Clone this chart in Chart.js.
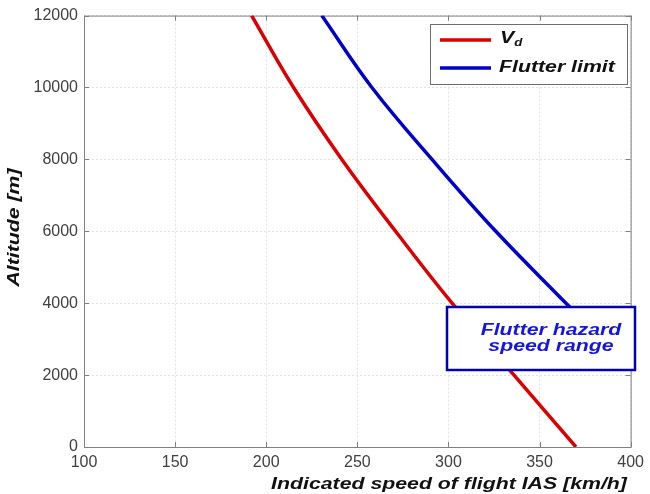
<!DOCTYPE html>
<html>
<head>
<meta charset="utf-8">
<script src="https://cdn.jsdelivr.net/npm/chart.js@4"></script>
<style>
  html, body { margin: 0; padding: 0; background: #fff; }
  #wrap { width: 650px; height: 494px; }
</style>
</head>
<body>
<div id="wrap"><canvas id="flutter-chart" width="650" height="494"></canvas></div>
<script>
// Altitude vs indicated airspeed: design dive speed Vd and flutter limit

const xTicks = [100, 150, 200, 250, 300, 350, 400];
const yTicks = [0, 2000, 4000, 6000, 8000, 10000, 12000];

// Vd curve
const vdAltitude = [12000, 10000, 8000, 6000, 4000, 2000, 0];
const vdSpeed = [192, 215, 241.5, 271, 302, 336, 370];

// Flutter limit curve (runs under the hazard box at the bottom)
const flutterAltitude = [12000, 10000, 8000, 6000, 4000, 3800];
const flutterSpeed = [230.5, 258, 291, 326, 364.5, 368.5];

const seriesLabels = ['Vd', 'Flutter limit'];
const hazardText = ['Flutter hazard', 'speed range'];
const xTitle = 'Indicated speed of flight IAS [km/h]';
const yTitle = 'Altitude [m]';

const RED = '#dc0000';
const BLUE = '#0000cc';
const FAMILY = '"Liberation Sans", Arial, sans-serif';
const BOLD = 'italic bold 16px ' + FAMILY;
// the original bold italic lettering is rendered wide
const STRETCH = 1.33;

function toPoints(xs, ys) {
  return xs.map((x, i) => ({ x: x, y: ys[i] }));
}

function wideText(ctx, text, x, y, align, font, color) {
  ctx.save();
  ctx.font = font;
  ctx.fillStyle = color;
  ctx.textBaseline = 'middle';
  ctx.textAlign = 'left';
  const w = ctx.measureText(text).width * STRETCH;
  let left = x;
  if (align === 'center') left = x - w / 2;
  else if (align === 'right') left = x - w;
  ctx.translate(left, y);
  ctx.scale(STRETCH, 1);
  ctx.fillText(text, 0, 0);
  ctx.restore();
  return w;
}

// frame with inward tick marks, matlab style
const framePlugin = {
  id: 'frame',
  beforeDatasetsDraw(chart) {
    const { ctx, chartArea: a, scales } = chart;
    ctx.save();
    ctx.strokeStyle = '#808080';
    ctx.lineWidth = 1;
    ctx.strokeRect(a.left + 0.5, a.top + 0.5, a.right - a.left, a.bottom - a.top);
    ctx.beginPath();
    xTicks.forEach(v => {
      const px = Math.round(scales.x.getPixelForValue(v)) + 0.5;
      ctx.moveTo(px, a.bottom); ctx.lineTo(px, a.bottom - 5);
      ctx.moveTo(px, a.top); ctx.lineTo(px, a.top + 5);
    });
    yTicks.forEach(v => {
      const py = Math.round(scales.y.getPixelForValue(v)) + 0.5;
      ctx.moveTo(a.left, py); ctx.lineTo(a.left + 5, py);
      ctx.moveTo(a.right, py); ctx.lineTo(a.right - 5, py);
    });
    ctx.stroke();
    ctx.restore();
  },
  afterDatasetsDraw(chart) {
    const ctx = chart.ctx;
    // hazard box sits on top of the curves
    ctx.save();
    ctx.fillStyle = '#fff';
    ctx.fillRect(447, 307, 188, 63);
    ctx.strokeStyle = '#0000b4';
    ctx.lineWidth = 2.5;
    ctx.strokeRect(447, 307, 188, 63);
    ctx.restore();
    wideText(ctx, hazardText[0], 551, 331, 'center', BOLD, '#1414e6');
    wideText(ctx, hazardText[1], 551, 347, 'center', BOLD, '#1414e6');
  },
  afterDraw(chart) {
    const ctx = chart.ctx;
    // legend
    ctx.save();
    ctx.fillStyle = '#fff';
    ctx.fillRect(430.5, 24.5, 197, 60);
    ctx.strokeStyle = '#6e6e6e';
    ctx.lineWidth = 1;
    ctx.strokeRect(430.5, 24.5, 197, 60);
    ctx.lineWidth = 3.5;
    ctx.strokeStyle = RED;
    ctx.beginPath(); ctx.moveTo(440, 40); ctx.lineTo(491, 40); ctx.stroke();
    ctx.strokeStyle = BLUE;
    ctx.beginPath(); ctx.moveTo(440, 68); ctx.lineTo(491, 68); ctx.stroke();
    ctx.restore();
    const vw = wideText(ctx, seriesLabels[0].charAt(0), 500, 39, 'left', BOLD, '#111');
    wideText(ctx, seriesLabels[0].slice(1), 500 + vw, 43, 'left', 'italic bold 10px ' + FAMILY, '#111');
    wideText(ctx, seriesLabels[1], 499, 67.5, 'left', BOLD, '#111');

    // axis titles
    wideText(ctx, xTitle, 449, 485, 'center', BOLD, '#111');
    ctx.save();
    ctx.translate(15, 227.5);
    ctx.rotate(-Math.PI / 2);
    wideText(ctx, yTitle, 0, 0, 'center', BOLD, '#111');
    ctx.restore();
  }
};

const tickFont = { family: FAMILY, size: 16 };

new Chart(document.getElementById('flutter-chart'), {
  type: 'scatter',
  data: {
    datasets: [
      {
        label: seriesLabels[0],
        data: toPoints(vdSpeed, vdAltitude),
        borderColor: RED,
        backgroundColor: RED
      },
      {
        label: seriesLabels[1],
        data: toPoints(flutterSpeed, flutterAltitude),
        borderColor: BLUE,
        backgroundColor: BLUE
      }
    ]
  },
  options: {
    responsive: false,
    animation: false,
    showLine: true,
    elements: {
      point: { radius: 0, hoverRadius: 0 },
      line: { borderWidth: 3.5, tension: 0.4, borderCapStyle: 'butt' }
    },
    layout: { padding: { top: 15, right: 17, left: 0, bottom: 0 } },
    plugins: {
      legend: { display: false },
      tooltip: { enabled: false }
    },
    scales: {
      x: {
        type: 'linear',
        min: xTicks[0],
        max: xTicks[xTicks.length - 1],
        afterBuildTicks: s => { s.ticks = xTicks.map(v => ({ value: v })); },
        afterFit: s => { s.height = 47; },
        grid: { color: '#e2e2e2', drawTicks: false },
        border: { display: false, dash: [2, 2] },
        ticks: {
          font: tickFont,
          color: '#404040',
          padding: 6,
          maxRotation: 0,
          autoSkip: false,
          callback: v => String(v)
        }
      },
      y: {
        type: 'linear',
        min: yTicks[0],
        max: yTicks[yTicks.length - 1],
        afterBuildTicks: s => { s.ticks = yTicks.map(v => ({ value: v })); },
        afterFit: s => { s.width = 84; },
        grid: { color: '#e2e2e2', drawTicks: false },
        border: { display: false, dash: [2, 2] },
        ticks: {
          font: tickFont,
          color: '#404040',
          padding: 6,
          autoSkip: false,
          callback: v => String(v)
        }
      }
    }
  },
  plugins: [framePlugin]
});
</script>
</body>
</html>
